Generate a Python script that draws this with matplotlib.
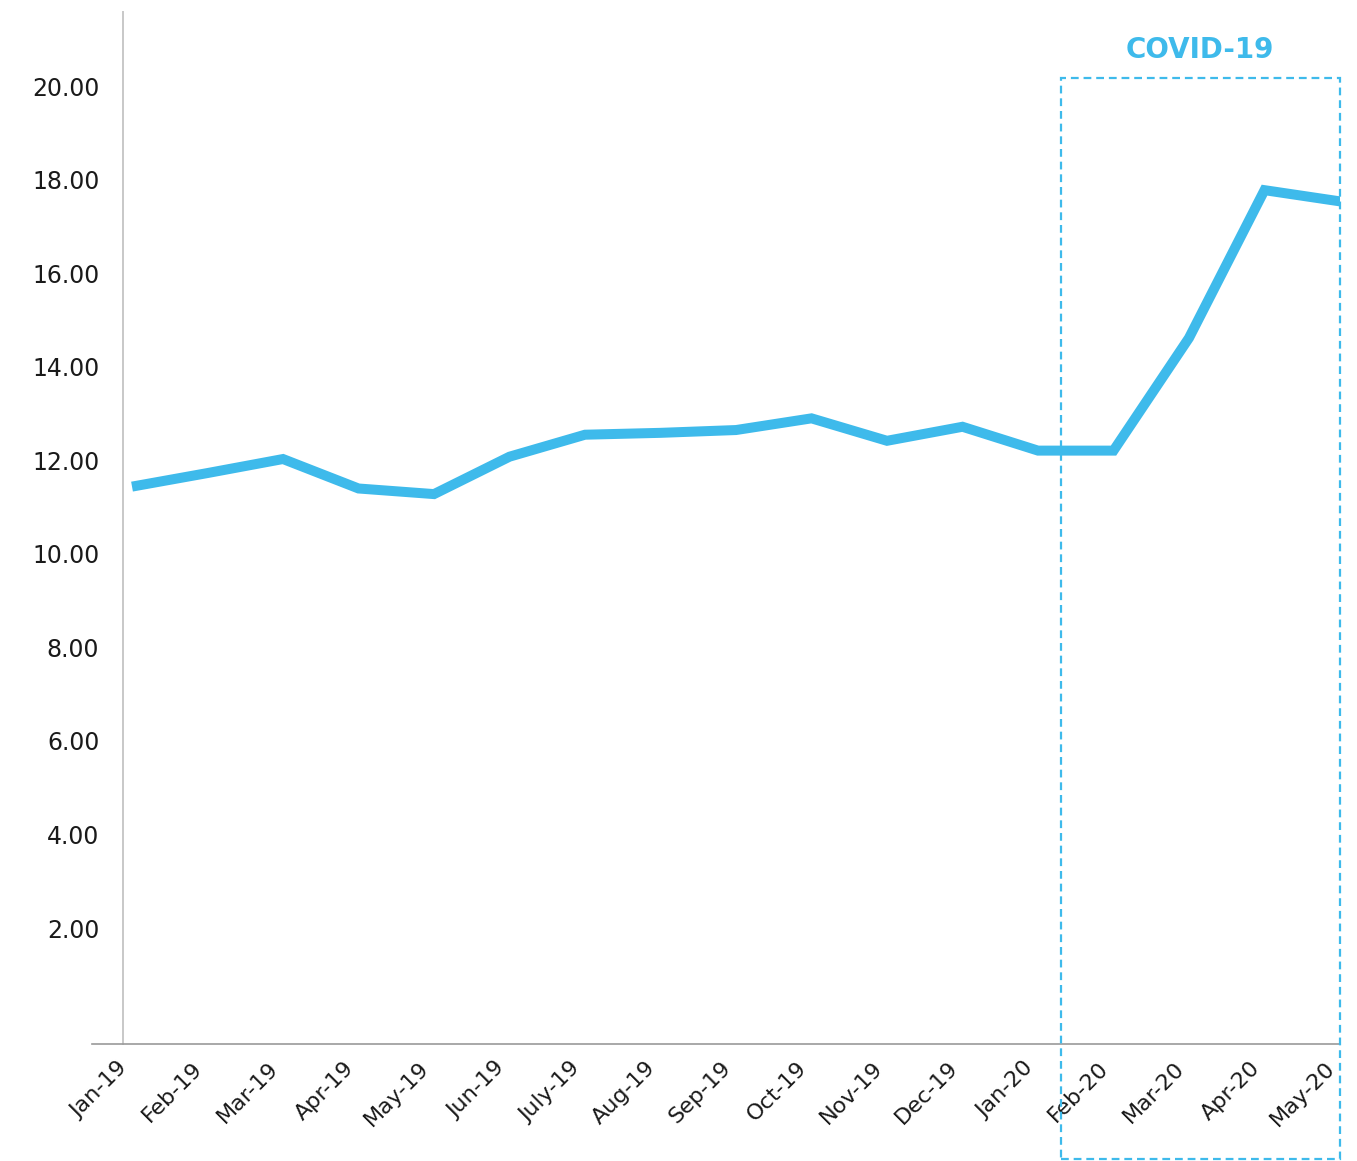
import matplotlib
matplotlib.use("Agg")
import matplotlib.pyplot as plt
from matplotlib.patches import Rectangle
from matplotlib.transforms import ScaledTranslation

# Monthly series
months = ["Jan-19", "Feb-19", "Mar-19", "Apr-19", "May-19", "Jun-19", "July-19",
          "Aug-19", "Sep-19", "Oct-19", "Nov-19", "Dec-19", "Jan-20", "Feb-20",
          "Mar-20", "Apr-20", "May-20"]
values = [11.44, 11.73, 12.03, 11.40, 11.28, 12.08, 12.55, 12.59, 12.65, 12.90,
          12.42, 12.72, 12.21, 12.21, 14.62, 17.78, 17.54]
y_ticks = [2, 4, 6, 8, 10, 12, 14, 16, 18, 20]
y_labels = [f"{v:.2f}" for v in y_ticks]
highlight_label = "COVID-19"

W, H = 1357, 1161
DPI = 100
BLUE = "#3EBAEB"
TEXT = "#1a1a1a"

fig = plt.figure(figsize=(W / DPI, H / DPI), dpi=DPI)
fig.patch.set_facecolor("white")

# axes box in pixel terms
ax_l, ax_r, ax_b, ax_t = 92, 1340, 1044, 12
ax = fig.add_axes([ax_l / W, (H - ax_b) / H, (ax_r - ax_l) / W, (ax_b - ax_t) / H])

x = list(range(len(months)))
ax.plot(x, values, color=BLUE, lw=7.2, solid_joinstyle="miter", solid_capstyle="butt")

ax.set_xlim(-0.53, 16)
ax.set_ylim(-0.48, 21.59)

ax.tick_params(axis="y", length=0, pad=17, labelsize=17, labelcolor=TEXT)
ax.tick_params(axis="x", length=0, pad=15, labelsize=16, labelcolor=TEXT)

ax.set_yticks(y_ticks)
ax.set_yticklabels(y_labels)
ax.set_xticks(x)
ax.set_xticklabels(months)
shift = ScaledTranslation(-8 / DPI, 0, fig.dpi_scale_trans)
for lab in ax.get_xticklabels():
    lab.set_rotation(45)
    lab.set_ha("right")
    lab.set_va("center")
    lab.set_rotation_mode("anchor")
    lab.set_transform(lab.get_transform() + shift)

for side in ("top", "right"):
    ax.spines[side].set_visible(False)
ax.spines["left"].set_position(("data", -0.12))
ax.spines["left"].set_color("#c8c8c8")
ax.spines["left"].set_linewidth(1.4)
ax.spines["bottom"].set_color("#9a9a9a")
ax.spines["bottom"].set_linewidth(1.2)

# highlighted period frame and caption
bx0, bx1, by0, by1 = 1061, 1340, 78, 1159
rect = Rectangle((bx0 / W, (H - by1) / H), (bx1 - bx0) / W, (by1 - by0) / H,
                 transform=fig.transFigure, fill=False, edgecolor=BLUE,
                 lw=1.6, linestyle=(0, (3.5, 2.2)), clip_on=False, zorder=5)
fig.add_artist(rect)
fig.text(1200 / W, (H - 50) / H, highlight_label, color=BLUE, fontsize=20,
         fontweight="bold", ha="center", va="center")

fig.savefig("out.png", dpi=DPI, facecolor="white")
